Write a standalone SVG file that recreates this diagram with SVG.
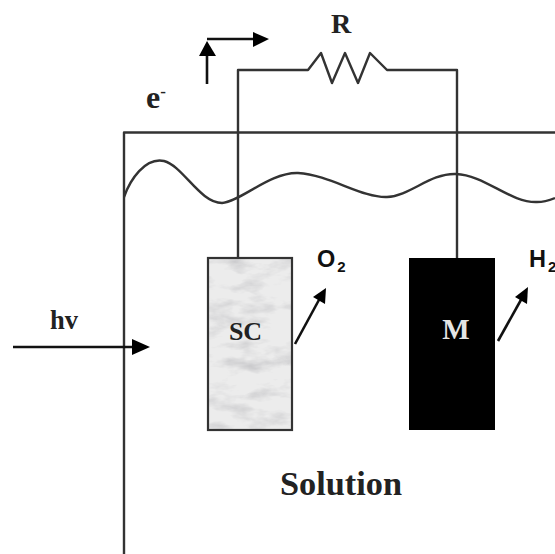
<svg xmlns="http://www.w3.org/2000/svg" width="555" height="554" viewBox="0 0 555 554">
<style>
.w{fill:none;stroke:#333;stroke-width:2.4;stroke-linejoin:round}
.a{fill:none;stroke:#111;stroke-width:2.6}
.h{fill:#000;stroke:none}
.s{font-family:"Liberation Serif",serif;font-weight:bold;fill:#222}
.o{font-family:"Liberation Sans",sans-serif;font-weight:bold;fill:#111}
</style>
<rect width="555" height="554" fill="#fff"/>
<defs>
<filter id="mottle" x="0" y="0" width="100%" height="100%"><feTurbulence type="fractalNoise" baseFrequency="0.03 0.07" numOctaves="4" seed="11"/><feColorMatrix values="0 0 0 0 0.5 0 0 0 0 0.5 0 0 0 0 0.52 1.6 0 0 0 -0.72"/></filter>
</defs>
<g id="connectors">
<path class="w" d="M124 197C130 180 145 157 164 161C183 166 200 203 222 203C240 202 270 172 298 173C330 175 362 198 387 197C410 196 430 173 456 174C485 175 510 203 537 202C545 202 550 200 555 198"/>
<path class="w" d="M124 554V132.500H555"/>
<path class="w" d="M238 258V70H308L321 53L332 83L345 53L358 83L370 53L387 70H457V258"/>
<path class="a" d="M207 84V50"/><path class="h" d="M199 56L207 41L216 56Z"/>
<path class="a" d="M207 39H256"/><path class="h" d="M253 32L269 39L253 47Z"/>
<path class="a" d="M13 347H136"/><path class="h" d="M132 339L150 347L132 355Z"/>
<path class="a" d="M295 344L320 298"/><path class="h" d="M313 297L326 288L325 304Z"/>
<path class="a" d="M498 341L522 298"/><path class="h" d="M515 297L528 287L527 304Z"/>
</g>
<g id="sc">
<rect x="208" y="258" width="84" height="172" fill="#ececec"/>
<rect x="208" y="258" width="84" height="172" filter="url(#mottle)"/>
<rect x="208" y="258" width="84" height="172" fill="none" stroke="#333" stroke-width="2.2"/>
<text class="s" x="245.500" y="340" font-size="26" text-anchor="middle">SC</text>
</g>
<g id="m">
<rect x="409" y="258" width="86" height="172" fill="#000"/>
<text class="s" x="456" y="339" font-size="29" text-anchor="middle" style="fill:#e4e4e4">M</text>
</g>
<g id="labels">
<text class="s" x="341" y="33" font-size="28" text-anchor="middle">R</text>
<text class="s" x="146" y="108" font-size="32">e<tspan font-size="17" dy="-11">-</tspan></text>
<text class="s" x="50" y="329" font-size="26.500">hv</text>
<text class="o" x="317" y="267" font-size="23.500">O<tspan font-size="15" dx="2" dy="5">2</tspan></text>
<text class="o" x="529" y="267" font-size="23.500">H<tspan font-size="15" dx="2" dy="5">2</tspan></text>
<text class="s" x="341" y="495" font-size="33" text-anchor="middle" textLength="122" lengthAdjust="spacingAndGlyphs">Solution</text>
</g>
</svg>
